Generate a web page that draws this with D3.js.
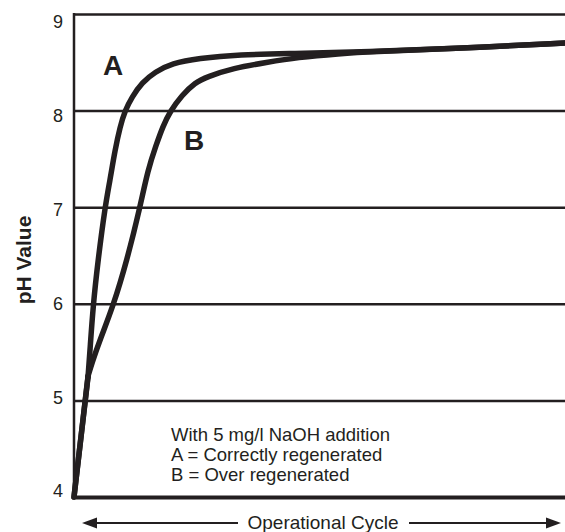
<!DOCTYPE html>
<html>
<head>
<meta charset="utf-8">
<script src="https://cdn.jsdelivr.net/npm/d3@7"></script>
<style>
	body { margin: 0; background: #fff; }
	text { font-family: "Liberation Sans", Arial, sans-serif; fill: #231f20; }
</style>
</head>
<body>
<div id="graphsvg"></div>
<script>
// pH ticks
var phTicks = [4, 5, 6, 7, 8, 9]

// curve A: correctly regenerated (x = share of operational cycle, 0..100)
var cycleA = [0, 2.85, 3.26, 3.87, 4.89, 6.31, 7.33, 8.35, 9.37, 10.39, 11.81, 13.85, 16.5, 19.96, 25.25, 33.8, 44, 60.3, 76.6, 100]
var phA    = [4.0, 5.24, 5.52, 5.97, 6.45, 7.0, 7.28, 7.59, 7.83, 8.0, 8.14, 8.29, 8.4, 8.49, 8.54, 8.58, 8.59, 8.61, 8.64, 8.7]

// curve B: over regenerated
var cycleB = [0, 2.85, 3.67, 5.3, 7.94, 10.79, 13.44, 15.07, 16.7, 18.13, 19.55, 22.0, 24.64, 27.09, 32.38, 39.3, 45.4, 54.2, 60.3, 76.6, 100]
var phB    = [4.0, 5.25, 5.39, 5.63, 5.97, 6.45, 7.0, 7.39, 7.64, 7.84, 7.99, 8.16, 8.29, 8.35, 8.44, 8.5, 8.55, 8.59, 8.61, 8.64, 8.7]

var notes = ["With 5 mg/l NaOH addition", "A = Correctly regenerated", "B = Over regenerated"]

var ink = "#231f20"
var width = 565, height = 532
var plotL = 74, plotR = 565, plotT = 14, plotB = 497

var svg = d3.select("#graphsvg")
	.append("svg")
	.attr("width", width)
	.attr("height", height)
	.style("display", "block")

var x = d3.scaleLinear().domain([0, 100]).range([plotL, plotR])
var y = d3.scaleLinear().domain([4, 9]).range([plotB, plotT])
// labels in the print sit slightly more evenly than the rules
var yLab = d3.scaleLinear().domain([4, 9]).range([491, 21.5])

// grid lines across the plot
var grid = svg.append("g")
	.attr("transform", "translate(" + plotL + ",0)")
	.call(d3.axisLeft(y).tickValues(phTicks).tickSizeInner(-(plotR - plotL)).tickSizeOuter(0).tickFormat(""))
grid.select(".domain").remove()
grid.selectAll("line").attr("stroke", ink).attr("stroke-width", 2.5)
grid.selectAll("g.tick").filter(function (d) { return d == 4 }).select("line").attr("stroke-width", 4)

// left axis line
svg.append("line")
	.attr("x1", plotL).attr("x2", plotL)
	.attr("y1", y(9) - 1).attr("y2", y(4) + 2)
	.attr("stroke", ink).attr("stroke-width", 2.5)

// tick labels
svg.selectAll(".ylab")
	.data(phTicks)
	.enter()
	.append("text")
	.attr("class", "ylab")
	.attr("x", 63)
	.attr("y", function (d) { return yLab(d) })
	.attr("dy", "0.36em")
	.attr("text-anchor", "end")
	.style("font-size", "18px")
	.text(function (d) { return d })

svg.append("text")
	.attr("transform", "translate(31,260) rotate(-90)")
	.attr("text-anchor", "middle")
	.style("font-size", "21px")
	.style("font-weight", "bold")
	.text("pH Value")

// the two curves: shared straight start up to the kink, smooth afterwards
var straight = d3.line()
	.x(function (d) { return x(d[0]) })
	.y(function (d) { return y(d[1]) })
var smooth = d3.line()
	.x(function (d) { return x(d[0]) })
	.y(function (d) { return y(d[1]) })
	.curve(d3.curveBasis)

var seriesA = cycleA.map(function (c, i) { return [c, phA[i]] })
var seriesB = cycleB.map(function (c, i) { return [c, phB[i]] })

;[seriesB, seriesA].forEach(function (s) {
	svg.append("path").datum(s.slice(0, 2)).attr("d", straight)
		.attr("fill", "none").attr("stroke", ink).attr("stroke-width", 5.5).attr("stroke-linecap", "round")
	svg.append("path").datum(s.slice(1)).attr("d", smooth)
		.attr("fill", "none").attr("stroke", ink).attr("stroke-width", 5.5).attr("stroke-linecap", "round")
})

svg.append("text").attr("x", 113).attr("y", 75).attr("text-anchor", "middle")
	.style("font-size", "28px").style("font-weight", "bold").text("A")
svg.append("text").attr("x", 194).attr("y", 150).attr("text-anchor", "middle")
	.style("font-size", "28px").style("font-weight", "bold").text("B")

// note block
svg.selectAll(".note")
	.data(notes)
	.enter()
	.append("text")
	.attr("class", "note")
	.attr("x", 171)
	.attr("y", function (d, i) { return 441 + i * 19.8 })
	.style("font-size", "18.5px")
	.text(function (d) { return d })

// operational cycle arrow
var ay = 523
svg.append("line").attr("x1", 90).attr("x2", 238).attr("y1", ay).attr("y2", ay)
	.attr("stroke", ink).attr("stroke-width", 2)
svg.append("line").attr("x1", 409).attr("x2", 552).attr("y1", ay).attr("y2", ay)
	.attr("stroke", ink).attr("stroke-width", 2)
svg.append("path").attr("d", "M82," + ay + "L97," + (ay - 5.5) + "L97," + (ay + 5.5) + "Z").attr("fill", ink)
svg.append("path").attr("d", "M561," + ay + "L546," + (ay - 5.5) + "L546," + (ay + 5.5) + "Z").attr("fill", ink)
svg.append("text").attr("x", 323).attr("y", 529).attr("text-anchor", "middle")
	.style("font-size", "19px").text("Operational Cycle")
</script>
</body>
</html>
